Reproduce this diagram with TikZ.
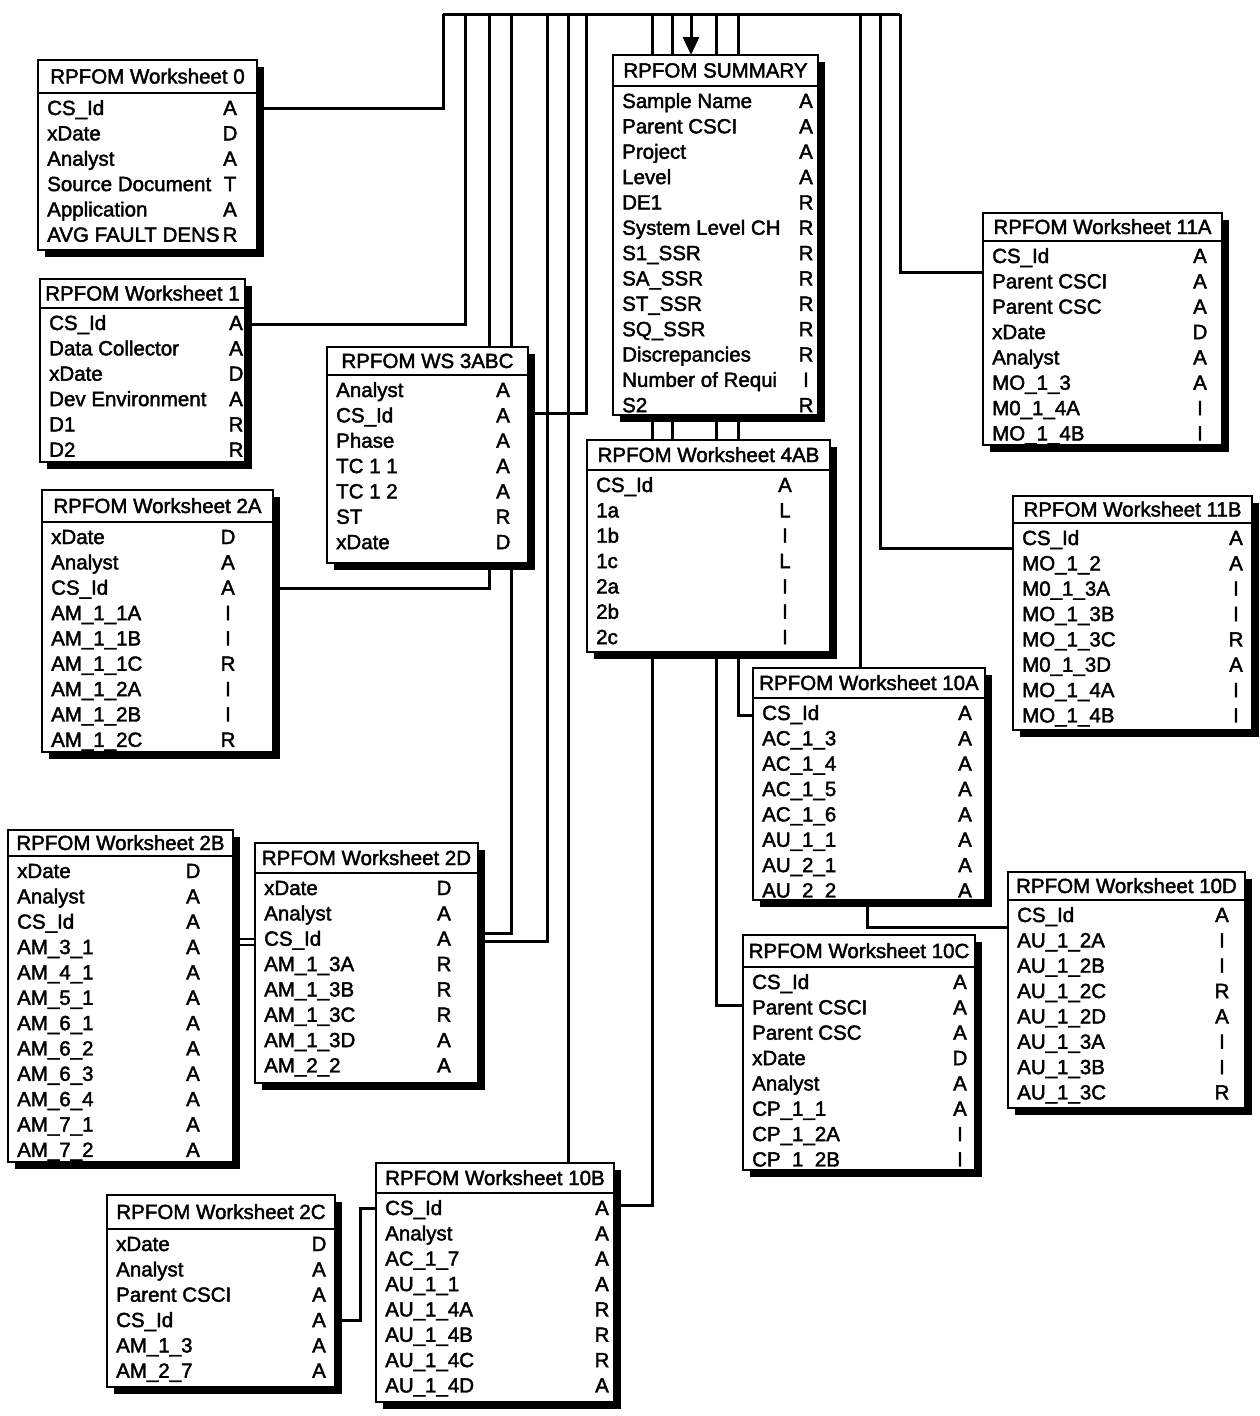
\documentclass[tikz,border=0pt]{standalone}
\usepackage{fontspec}
\setmainfont{Liberation Sans}[FakeBold=2]
\usetikzlibrary{shadows,arrows.meta,calc}
\pgfdeclarelayer{bg}
\pgfsetlayers{bg,main}
\tikzset{
  tbox/.style={draw, line width=2.8pt, fill=white, inner sep=0pt, outer sep=0pt,
    general shadow={fill=black, shadow xshift=7pt, shadow yshift=-7pt}},
  hdline/.style={line width=2.4pt},
  rowtxt/.style={anchor=base west, inner sep=0pt, font=\fontsize{20.5}{24}\selectfont},
  typtxt/.style={anchor=base, inner sep=0pt, font=\fontsize{20.5}{24}\selectfont},
  hdtxt/.style={anchor=base, inner sep=0pt, font=\fontsize{20.5}{24}\selectfont},
  conn/.style={line width=3pt},
}
\newcommand\wsbox[9]{%
  \node[tbox, anchor=north west, minimum width={#4-#2}, minimum height={#5-#3}] (#1) at ({#2},{#3}) {};
  \draw[hdline] ({#2},{#6-15}) -- ({#4},{#6-15});
  \node[hdtxt] at ({(#2+#4)/2},{(#3+#6-15)/2+7}) {#8};
  \foreach \lab/\typ [count=\i from 0] in {#9} {
    \node[rowtxt] at ({#2+9},{#6+\i*25.35+7}) {\lab};
    \node[typtxt] at ({#7},{#6+\i*25.35+7}) {\typ};
  }%
}
\begin{document}
\begin{tikzpicture}[x=1pt,y=-1pt]
\useasboundingbox (0,0) rectangle (1260,1416);

\wsbox{ws0}{38}{60}{257}{250}{108}{230}{RPFOM Worksheet 0}{CS\_Id/A, xDate/D, Analyst/A, Source Document/T, Application/A, AVG FAULT DENS/R}
\wsbox{ws1}{40}{279}{245}{462}{323}{236}{RPFOM Worksheet 1}{CS\_Id/A, Data Collector/A, xDate/D, Dev Environment/A, D1/R, D2/R}
\wsbox{ws2a}{42}{490}{273}{752}{537}{228}{RPFOM Worksheet 2A}{xDate/D, Analyst/A, CS\_Id/A, AM\_1\_1A/I, AM\_1\_1B/I, AM\_1\_1C/R, AM\_1\_2A/I, AM\_1\_2B/I, AM\_1\_2C/R}
\wsbox{ws3}{327}{347}{528}{563}{390}{503}{RPFOM WS 3ABC}{Analyst/A, CS\_Id/A, Phase/A, TC 1 1/A, TC 1 2/A, ST/R, xDate/D}
\wsbox{sum}{613}{55}{818}{415}{101}{806}{RPFOM SUMMARY}{Sample Name/A, Parent CSCI/A, Project/A, Level/A, DE1/R, System Level CH/R, S1\_SSR/R, SA\_SSR/R, ST\_SSR/R, SQ\_SSR/R, Discrepancies/R, Number of Requi/I, S2/R}
\wsbox{ws4}{587}{440}{830}{652}{485}{785}{RPFOM Worksheet 4AB}{CS\_Id/A, 1a/L, 1b/I, 1c/L, 2a/I, 2b/I, 2c/I}
\wsbox{ws11a}{983}{213}{1222}{445}{256}{1200}{RPFOM Worksheet 11A}{CS\_Id/A, Parent CSCI/A, Parent CSC/A, xDate/D, Analyst/A, MO\_1\_3/A, M0\_1\_4A/I, MO\_1\_4B/I}
\wsbox{ws11b}{1013}{496}{1252}{730}{538}{1236}{RPFOM Worksheet 11B}{CS\_Id/A, MO\_1\_2/A, M0\_1\_3A/I, MO\_1\_3B/I, MO\_1\_3C/R, M0\_1\_3D/A, MO\_1\_4A/I, MO\_1\_4B/I}
\wsbox{ws10a}{753}{668}{985}{900}{713}{965}{RPFOM Worksheet 10A}{CS\_Id/A, AC\_1\_3/A, AC\_1\_4/A, AC\_1\_5/A, AC\_1\_6/A, AU\_1\_1/A, AU\_2\_1/A, AU\_2\_2/A}
\wsbox{ws10d}{1008}{872}{1245}{1108}{915}{1222}{RPFOM Worksheet 10D}{CS\_Id/A, AU\_1\_2A/I, AU\_1\_2B/I, AU\_1\_2C/R, AU\_1\_2D/A, AU\_1\_3A/I, AU\_1\_3B/I, AU\_1\_3C/R}
\wsbox{ws10c}{743}{935}{975}{1170}{982}{960}{RPFOM Worksheet 10C}{CS\_Id/A, Parent CSCI/A, Parent CSC/A, xDate/D, Analyst/A, CP\_1\_1/A, CP\_1\_2A/I, CP\_1\_2B/I}
\wsbox{ws2b}{8}{830}{233}{1162}{871}{193}{RPFOM Worksheet 2B}{xDate/D, Analyst/A, CS\_Id/A, AM\_3\_1/A, AM\_4\_1/A, AM\_5\_1/A, AM\_6\_1/A, AM\_6\_2/A, AM\_6\_3/A, AM\_6\_4/A, AM\_7\_1/A, AM\_7\_2/A}
\wsbox{ws2d}{255}{843}{478}{1083}{888}{444}{RPFOM Worksheet 2D}{xDate/D, Analyst/A, CS\_Id/A, AM\_1\_3A/R, AM\_1\_3B/R, AM\_1\_3C/R, AM\_1\_3D/A, AM\_2\_2/A}
\wsbox{ws2c}{107}{1195}{335}{1387}{1244}{319}{RPFOM Worksheet 2C}{xDate/D, Analyst/A, Parent CSCI/A, CS\_Id/A, AM\_1\_3/A, AM\_2\_7/A}
\wsbox{ws10b}{376}{1163}{614}{1402}{1208}{602}{RPFOM Worksheet 10B}{CS\_Id/A, Analyst/A, AC\_1\_7/A, AU\_1\_1/A, AU\_1\_4A/R, AU\_1\_4B/R, AU\_1\_4C/R, AU\_1\_4D/A}

\coordinate (bL) at (443,14);
\coordinate (t2) at (465,14);
\coordinate (t3) at (489,14);
\coordinate (t4) at (511,14);
\coordinate (t5) at (547,14);
\coordinate (t6) at (568,14);
\coordinate (t7) at (586,14);
\coordinate (t8) at (652,14);
\coordinate (t9) at (672,14);
\coordinate (ta) at (691,14);
\coordinate (t10) at (716,14);
\coordinate (t11) at (738,14);
\coordinate (t12) at (860,14);
\coordinate (t13) at (880,14);
\coordinate (bR) at (900,14);

\begin{pgfonlayer}{bg}
\draw[conn] (bL) -- (bR);
\draw[conn] (ws0.east |- 0,108) -| (bL);
\draw[conn] (ws1.east |- 0,324) -| (t2);
\draw[conn] (ws2a.east |- 0,588) -| (t3);
\draw[conn] (ws2d.east |- 0,933) -| (t4);
\draw[conn] (ws2d.east |- 0,941) -| (t5);
\draw[conn] (t6) -- (t6 |- ws10b.north);
\draw[conn] (ws3.east |- 0,413) -| (t7);
\draw[conn] (ws10b.east |- 0,1205) -| (t8);
\draw[conn] (t9) -- (t9 |- ws4.north);
\draw[conn] (ws10c.west |- 0,1005) -| (t10);
\draw[conn] (ws10a.west |- 0,715) -| (t11);
\draw[conn] (t12) -- (t12 |- ws10a.north);
\draw[conn] (ws11b.west |- 0,548) -| (t13);
\draw[conn] (ws11a.west |- 0,272) -| (bR);
\draw[conn] (ws2c.east |- 0,1320) -- ++(25,0) |- (ws10b.west |- 0,1208);
\draw[line width=2.2pt] (ws2b.east |- 0,939) -- (ws2d.west |- 0,939);
\draw[line width=2.2pt] (ws2b.east |- 0,945) -- (ws2d.west |- 0,945);
\draw[conn] (867,0 |- ws10a.south) |- (ws10d.west |- 0,927);
\end{pgfonlayer}
\draw[conn, -{Triangle[length=18pt,width=16pt]}] (ta) -- (ta |- sum.north);
\end{tikzpicture}
\end{document}
